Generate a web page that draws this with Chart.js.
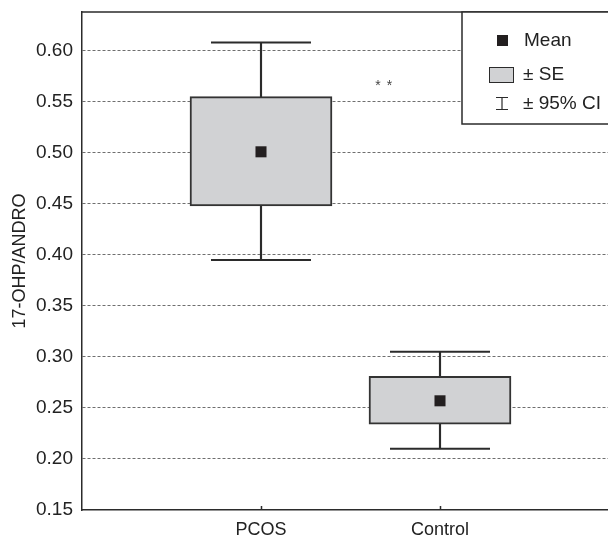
<!DOCTYPE html>
<html>
<head>
<meta charset="utf-8">
<script src="https://cdn.jsdelivr.net/npm/chart.js@4.4.1/dist/chart.umd.min.js"></script>
<style>
  html, body { margin: 0; padding: 0; background: #fff; overflow: hidden; }
  #wrap { width: 620px; height: 537px; }
</style>
</head>
<body>
<div id="wrap"><canvas id="chart" width="620" height="537"></canvas></div>
<script>
// ---------- DATA ----------
const labels = ["", "PCOS", "Control", ""];
const means = [null, 0.501, 0.257, null];
const seLow = [null, 0.448, 0.234, null];
const seHigh = [null, 0.555, 0.281, null];
const ciLow = [null, 0.395, 0.210, null];
const ciHigh = [null, 0.608, 0.305, null];
const yTicks = [0.15, 0.20, 0.25, 0.30, 0.35, 0.40, 0.45, 0.50, 0.55, 0.60];
const yTitle = "17-OHP/ANDRO";
const legendLabels = ["Mean", "± SE", "± 95% CI"];
const starText = "**";
const starPos = { x: 1.68, y: 0.566 };

// ---------- STYLE ----------
const FONT = "'Liberation Sans', Arial, sans-serif";
const INK = "#2b2b2b";
const BOX_FILL = "#d1d2d4";

// ---------- PLUGINS ----------
const framePlugin = {
    id: "frame",
    afterDraw(chart) {
        const ctx = chart.ctx;
        const a = chart.chartArea;
        const x = chart.scales.x;
        const y = chart.scales.y;
        ctx.save();
        // top border of the plot
        ctx.strokeStyle = INK;
        ctx.lineWidth = 1.5;
        ctx.beginPath();
        ctx.moveTo(a.left, a.top);
        ctx.lineTo(a.right, a.top);
        // small inner ticks on the category axis
        labels.forEach((l, i) => {
            if (!l) return;
            const px = Math.round(x.getPixelForValue(i)) + 0.5;
            ctx.moveTo(px, a.bottom);
            ctx.lineTo(px, a.bottom - 4);
        });
        ctx.stroke();

        // significance marker
        ctx.fillStyle = "#444";
        ctx.font = "14px " + FONT;
        ctx.letterSpacing = "6px";
        ctx.textAlign = "center";
        ctx.textBaseline = "middle";
        ctx.fillText(starText, x.getPixelForValue(starPos.x) + 4, y.getPixelForValue(starPos.y) + 1);
        ctx.letterSpacing = "0px";

        // legend box
        const lx = 462, ly = a.top, lb = 124;
        ctx.fillStyle = "#fff";
        ctx.fillRect(lx, ly, a.right - lx, lb - ly);
        ctx.strokeStyle = INK;
        ctx.lineWidth = 1.5;
        ctx.strokeRect(lx, ly, a.right - lx + 5, lb - ly);

        // mean marker
        ctx.fillStyle = "#231f20";
        ctx.fillRect(497, 35, 11, 11);
        // SE box
        ctx.fillStyle = BOX_FILL;
        ctx.fillRect(489, 67, 24, 15);
        ctx.lineWidth = 1;
        ctx.strokeRect(489.5, 67.5, 24, 15);
        // CI symbol
        ctx.lineWidth = 1.2;
        ctx.beginPath();
        ctx.moveTo(502, 97); ctx.lineTo(502, 110);
        ctx.moveTo(496, 97.5); ctx.lineTo(508, 97.5);
        ctx.moveTo(496, 109.5); ctx.lineTo(508, 109.5);
        ctx.stroke();

        ctx.fillStyle = "#222";
        ctx.font = "19px " + FONT;
        ctx.textAlign = "left";
        ctx.textBaseline = "middle";
        ctx.fillText(legendLabels[0], 524, 41);
        ctx.fillText(legendLabels[1], 523, 75);
        ctx.fillText(legendLabels[2], 523, 104);
        ctx.restore();
    }
};

// only real points get a radius, so the end slots do not pad the layout
const capRadius = ctx => (ctx.raw == null ? 0 : 50);
const meanRadius = ctx => (ctx.raw == null ? 0 : 7.8);

// ---------- CHART ----------
const chart = new Chart(document.getElementById("chart"), {
    type: "bar",
    data: {
        labels: labels,
        datasets: [
            {
                // whisker stem
                type: "bar",
                data: ciLow.map((v, i) => v === null ? null : [v, ciHigh[i]]),
                backgroundColor: INK,
                borderWidth: 0,
                barThickness: 1.5,
                grouped: false,
                order: 3
            },
            {
                // SE box
                type: "bar",
                data: seLow.map((v, i) => v === null ? null : [v, seHigh[i]]),
                backgroundColor: BOX_FILL,
                borderColor: "#333",
                borderWidth: 2,
                borderSkipped: false,
                barThickness: 142,
                grouped: false,
                order: 2
            },
            {
                // upper cap
                type: "line",
                data: ciHigh,
                showLine: false,
                pointStyle: "line",
                pointRadius: capRadius,
                pointBorderWidth: 2,
                pointBorderColor: INK,
                order: 1
            },
            {
                // lower cap
                type: "line",
                data: ciLow,
                showLine: false,
                pointStyle: "line",
                pointRadius: capRadius,
                pointBorderWidth: 2,
                pointBorderColor: INK,
                order: 1
            },
            {
                // mean
                type: "line",
                data: means,
                showLine: false,
                pointStyle: "rect",
                pointRadius: meanRadius,
                pointBackgroundColor: "#231f20",
                pointBorderWidth: 0,
                order: 0
            }
        ]
    },
    options: {
        responsive: false,
        devicePixelRatio: 1,
        animation: false,
        events: [],
        layout: { padding: { top: 12, right: 1, left: 0, bottom: 0 } },
        plugins: {
            legend: { display: false },
            tooltip: { enabled: false }
        },
        scales: {
            x: {
                type: "category",
                offset: false,
                grid: { display: false, drawTicks: false },
                border: { color: INK, width: 1.5 },
                ticks: {
                    color: "#222",
                    font: { family: FONT, size: 18 },
                    padding: 9,
                    autoSkip: false,
                    maxRotation: 0
                },
                afterFit(scale) {
                    scale.height = 27;
                    scale.paddingLeft = 0;
                    scale.paddingRight = 0;
                }
            },
            y: {
                type: "linear",
                min: yTicks[0],
                max: 0.638,
                afterBuildTicks(scale) {
                    scale.ticks = yTicks.map(v => ({ value: v }));
                },
                ticks: {
                    color: "#222",
                    font: { family: FONT, size: 19 },
                    padding: 9,
                    callback: v => Number(v).toFixed(2)
                },
                grid: {
                    drawTicks: false,
                    color: ctx => ctx.tick && ctx.tick.value > yTicks[0] + 1e-9 ? "#6f6f6f" : "rgba(0,0,0,0)",
                    lineWidth: 1
                },
                border: { color: INK, width: 1.5, dash: [3, 2] },
                title: {
                    display: true,
                    text: yTitle,
                    color: "#222",
                    font: { family: FONT, size: 18 },
                    padding: { top: 9, bottom: 0 }
                },
                afterFit(scale) {
                    scale.width = 82;
                    scale.paddingTop = 0;
                    scale.paddingBottom = 0;
                }
            }
        }
    },
    plugins: [framePlugin]
});
</script>
</body>
</html>
